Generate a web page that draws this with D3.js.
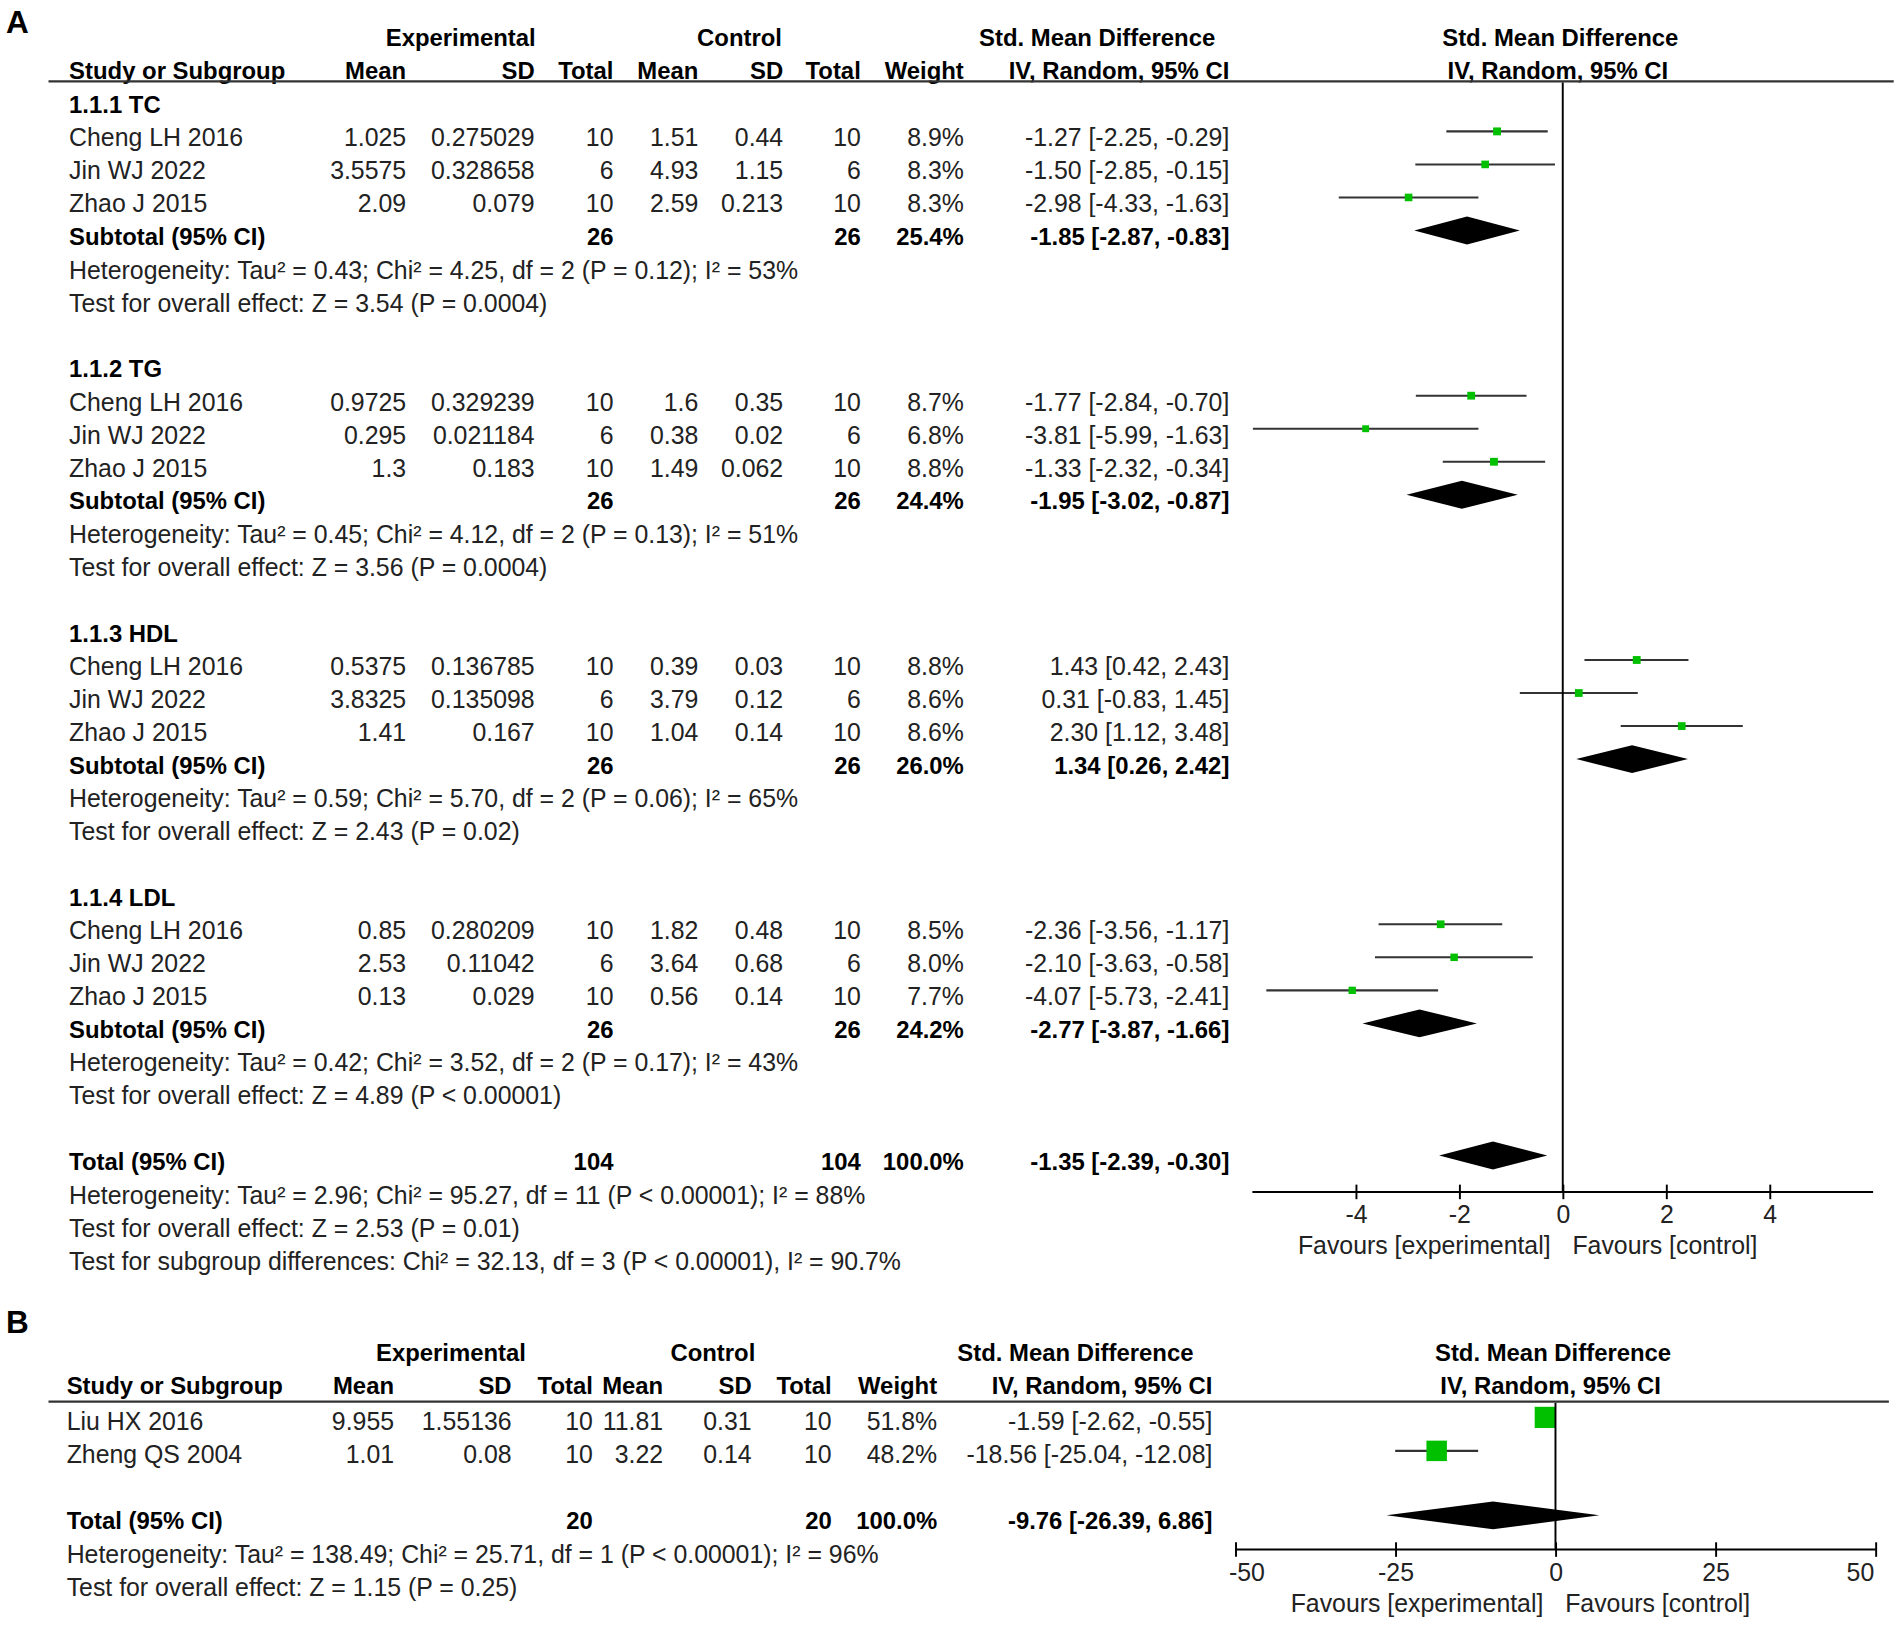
<!DOCTYPE html>
<html>
<head>
<meta charset="utf-8">
<script src="https://cdn.jsdelivr.net/npm/d3@7"></script>
<style>
  body { margin: 0; background: #fff; }
  text { font-family: "Liberation Sans", Arial, sans-serif; }
</style>
</head>
<body>
<div id="chart"></div>
<script>
// ---- panel A data ----
const groupsA = ["1.1.1 TC", "1.1.2 TG", "1.1.3 HDL", "1.1.4 LDL"];
const studiesA = ["Cheng LH 2016", "Jin WJ 2022", "Zhao J 2015"];
const expMeanA = [1.025, 3.5575, 2.09, 0.9725, 0.295, 1.3, 0.5375, 3.8325, 1.41, 0.85, 2.53, 0.13];
const expSdA = [0.275029, 0.328658, 0.079, 0.329239, 0.021184, 0.183, 0.136785, 0.135098, 0.167, 0.280209, 0.11042, 0.029];
const expNA = [10, 6, 10, 10, 6, 10, 10, 6, 10, 10, 6, 10];
const ctrlMeanA = [1.51, 4.93, 2.59, 1.6, 0.38, 1.49, 0.39, 3.79, 1.04, 1.82, 3.64, 0.56];
const ctrlSdA = [0.44, 1.15, 0.213, 0.35, 0.02, 0.062, 0.03, 0.12, 0.14, 0.48, 0.68, 0.14];
const ctrlNA = [10, 6, 10, 10, 6, 10, 10, 6, 10, 10, 6, 10];
const weightA = [8.9, 8.3, 8.3, 8.7, 6.8, 8.8, 8.8, 8.6, 8.6, 8.5, 8.0, 7.7];
const smdA = [-1.27, -1.50, -2.98, -1.77, -3.81, -1.33, 1.43, 0.31, 2.30, -2.36, -2.10, -4.07];
const loA = [-2.25, -2.85, -4.33, -2.84, -5.99, -2.32, 0.42, -0.83, 1.12, -3.56, -3.63, -5.73];
const hiA = [-0.29, -0.15, -1.63, -0.70, -1.63, -0.34, 2.43, 1.45, 3.48, -1.17, -0.58, -2.41];

const subNA = [26, 26, 26, 26];
const subWeightA = [25.4, 24.4, 26.0, 24.2];
const subSmdA = [-1.85, -1.95, 1.34, -2.77];
const subLoA = [-2.87, -3.02, 0.26, -3.87];
const subHiA = [-0.83, -0.87, 2.42, -1.66];
const subHetA = [
  "Heterogeneity: Tau² = 0.43; Chi² = 4.25, df = 2 (P = 0.12); I² = 53%",
  "Heterogeneity: Tau² = 0.45; Chi² = 4.12, df = 2 (P = 0.13); I² = 51%",
  "Heterogeneity: Tau² = 0.59; Chi² = 5.70, df = 2 (P = 0.06); I² = 65%",
  "Heterogeneity: Tau² = 0.42; Chi² = 3.52, df = 2 (P = 0.17); I² = 43%"
];
const subTestA = [
  "Test for overall effect: Z = 3.54 (P = 0.0004)",
  "Test for overall effect: Z = 3.56 (P = 0.0004)",
  "Test for overall effect: Z = 2.43 (P = 0.02)",
  "Test for overall effect: Z = 4.89 (P < 0.00001)"
];
const totalA = { n1: 104, n2: 104, weight: 100.0, smd: -1.35, lo: -2.39, hi: -0.30 };
const totalNotesA = [
  "Heterogeneity: Tau² = 2.96; Chi² = 95.27, df = 11 (P < 0.00001); I² = 88%",
  "Test for overall effect: Z = 2.53 (P = 0.01)",
  "Test for subgroup differences: Chi² = 32.13, df = 3 (P < 0.00001), I² = 90.7%"
];
const ticksA = [-4, -2, 0, 2, 4];

// ---- panel B data ----
const studiesB = ["Liu HX 2016", "Zheng QS 2004"];
const expMeanB = [9.955, 1.01];
const expSdB = [1.55136, 0.08];
const expNB = [10, 10];
const ctrlMeanB = [11.81, 3.22];
const ctrlSdB = [0.31, 0.14];
const ctrlNB = [10, 10];
const weightB = [51.8, 48.2];
const smdB = [-1.59, -18.56];
const loB = [-2.62, -25.04];
const hiB = [-0.55, -12.08];
const totalB = { n1: 20, n2: 20, weight: 100.0, smd: -9.76, lo: -26.39, hi: 6.86 };
const totalNotesB = [
  "Heterogeneity: Tau² = 138.49; Chi² = 25.71, df = 1 (P < 0.00001); I² = 96%",
  "Test for overall effect: Z = 1.15 (P = 0.25)"
];
const ticksB = [-50, -25, 0, 25, 50];

// ---- layout ----
const W = 1568, H = 1350;
const FS = 20.5, FSB = 19.7;
const GREEN = "#00c000";

const svg = d3.select("#chart").append("svg")
  .attr("width", 1901)
  .attr("height", 1637)
  .attr("viewBox", `0 0 ${W} ${H}`);

const fmt2 = v => v.toFixed(2);
const ci = (m, lo, hi) => `${fmt2(m)} [${fmt2(lo)}, ${fmt2(hi)}]`;
const pct = w => w.toFixed(1) + "%";

function txt(g, x, y, s, anchor, bold) {
  return g.append("text")
    .attr("x", x)
    .attr("y", y)
    .attr("dy", "0.36em")
    .attr("text-anchor", anchor || "start")
    .style("font-size", (bold ? FSB : FS) + "px")
    .style("font-weight", bold ? "bold" : "normal")
    .style("fill", bold ? "#000" : "#222")
    .text(s);
}

function header(g, cols, y1, y2, lineY, lineX2, zeroX) {
  txt(g, cols.expCenter, y1, "Experimental", "middle", true);
  txt(g, cols.ctrlCenter, y1, "Control", "middle", true);
  txt(g, cols.ciCenter, y1, "Std. Mean Difference", "middle", true);
  txt(g, zeroX - 2, y1, "Std. Mean Difference", "middle", true);
  txt(g, cols.study, y2, "Study or Subgroup", "start", true);
  txt(g, cols.m1, y2, "Mean", "end", true);
  txt(g, cols.sd1, y2, "SD", "end", true);
  txt(g, cols.n1, y2, "Total", "end", true);
  txt(g, cols.m2, y2, "Mean", "end", true);
  txt(g, cols.sd2, y2, "SD", "end", true);
  txt(g, cols.n2, y2, "Total", "end", true);
  txt(g, cols.w, y2, "Weight", "end", true);
  txt(g, cols.ci, y2, "IV, Random, 95% CI", "end", true);
  txt(g, zeroX - 4, y2, "IV, Random, 95% CI", "middle", true);
  g.append("line")
    .attr("x1", 40).attr("x2", lineX2)
    .attr("y1", lineY).attr("y2", lineY)
    .style("stroke", "#333").style("stroke-width", 2);
}

function studyRow(g, cols, y, vals) {
  txt(g, cols.study, y, vals[0]);
  txt(g, cols.m1, y, String(vals[1]), "end");
  txt(g, cols.sd1, y, String(vals[2]), "end");
  txt(g, cols.n1, y, String(vals[3]), "end");
  txt(g, cols.m2, y, String(vals[4]), "end");
  txt(g, cols.sd2, y, String(vals[5]), "end");
  txt(g, cols.n2, y, String(vals[6]), "end");
  txt(g, cols.w, y, pct(vals[7]), "end");
  txt(g, cols.ci, y, ci(vals[8], vals[9], vals[10]), "end");
}

function totalRow(g, cols, y, label, n1, n2, w, m, lo, hi) {
  txt(g, cols.study, y, label, "start", true);
  txt(g, cols.n1, y, String(n1), "end", true);
  txt(g, cols.n2, y, String(n2), "end", true);
  txt(g, cols.w, y, pct(w), "end", true);
  txt(g, cols.ci, y, ci(m, lo, hi), "end", true);
}

function studyMark(g, x, size, y, m, lo, hi, w) {
  g.append("line")
    .attr("x1", x(lo)).attr("x2", x(hi))
    .attr("y1", y).attr("y2", y)
    .style("stroke", "#333").style("stroke-width", 1.7);
  const s = size(w);
  g.append("rect")
    .attr("x", x(m) - s / 2).attr("y", y - s / 2)
    .attr("width", s).attr("height", s)
    .style("fill", GREEN);
}

function diamond(g, x, y, m, lo, hi) {
  const h = 11.5;
  g.append("path")
    .attr("d", `M${x(lo)},${y}L${x(m)},${y - h}L${x(hi)},${y}L${x(m)},${y + h}Z`)
    .style("fill", "#000");
}

function axisBlock(g, x, axisY, topY, ticks, endTicks) {
  g.append("line")
    .attr("x1", x(0)).attr("x2", x(0))
    .attr("y1", topY).attr("y2", axisY)
    .style("stroke", "#000").style("stroke-width", 1.6);

  const ax = g.append("g")
    .attr("transform", `translate(0,${axisY})`)
    .call(d3.axisBottom(x).tickValues(ticks).tickFormat(d => String(d))
      .tickSizeOuter(endTicks ? 6 : 0).tickSizeInner(6));
  ax.select(".domain")
    .attr("d", `M${x.range()[0]},0H${x.range()[1]}`)
    .style("stroke", "#000").style("stroke-width", 1.6);
  ax.selectAll(".tick line").attr("y1", -6).attr("y2", 6)
    .style("stroke", "#000").style("stroke-width", 1.6);
  ax.selectAll(".tick text")
    .attr("y", 11)
    .style("font-family", "\"Liberation Sans\", Arial, sans-serif")
    .style("font-size", FS + "px")
    .style("fill", "#222");
  if (endTicks) {
    ax.selectAll(".tick text")
      .attr("dx", d => d === ticks[0] ? 9 : d === ticks[ticks.length - 1] ? -13 : 0);
  }
  txt(g, x(0) - 10, axisY + 44, "Favours [experimental]", "end");
  txt(g, x(0) + 8, axisY + 44, "Favours [control]", "start");
}

// ---- Panel A ----
const gA = svg.append("g");
gA.append("text").attr("x", 5).attr("y", 27).text("A")
  .style("font-size", "26px").style("font-weight", "bold");

const colsA = {
  study: 57, m1: 335, sd1: 441, n1: 506, m2: 576, sd2: 646, n2: 710, w: 795, ci: 1014,
  expCenter: 380, ctrlCenter: 610, ciCenter: 905
};
const xA = d3.scaleLinear().domain([-6, 6]).range([1033, 1545]);
const rowA = d3.scaleLinear().domain([0, 35]).range([86, 86 + 35 * 27.25]);
const sizeA = d3.scaleSqrt().domain([0, 8.9]).range([0, 6.5]);
const markOff = -5;

header(gA, colsA, 31, 58, 67, 1562, xA(0));

groupsA.forEach((gname, gi) => {
  const base = gi * 8;
  txt(gA, colsA.study, rowA(base), gname, "start", true);
  studiesA.forEach((sname, si) => {
    const k = gi * 3 + si;
    const y = rowA(base + 1 + si);
    studyRow(gA, colsA, y, [sname, expMeanA[k], expSdA[k], expNA[k], ctrlMeanA[k], ctrlSdA[k], ctrlNA[k],
      weightA[k], smdA[k], loA[k], hiA[k]]);
    studyMark(gA, xA, sizeA, y + markOff, smdA[k], loA[k], hiA[k], weightA[k]);
  });
  const ys = rowA(base + 4);
  totalRow(gA, colsA, ys, "Subtotal (95% CI)", subNA[gi], subNA[gi], subWeightA[gi], subSmdA[gi], subLoA[gi], subHiA[gi]);
  diamond(gA, xA, ys + markOff, subSmdA[gi], subLoA[gi], subHiA[gi]);
  txt(gA, colsA.study, rowA(base + 5), subHetA[gi]);
  txt(gA, colsA.study, rowA(base + 6), subTestA[gi]);
});

const yTotA = rowA(32);
totalRow(gA, colsA, yTotA, "Total (95% CI)", totalA.n1, totalA.n2, totalA.weight, totalA.smd, totalA.lo, totalA.hi);
diamond(gA, xA, yTotA + markOff, totalA.smd, totalA.lo, totalA.hi);
totalNotesA.forEach((s, i) => txt(gA, colsA.study, rowA(33 + i), s));

axisBlock(gA, xA, 983, 68, ticksA, false);

// ---- Panel B ----
const gB = svg.append("g");
gB.append("text").attr("x", 5).attr("y", 1099).text("B")
  .style("font-size", "26px").style("font-weight", "bold");

const colsB = {
  study: 55, m1: 325, sd1: 422, n1: 489, m2: 547, sd2: 620, n2: 686, w: 773, ci: 1000,
  expCenter: 372, ctrlCenter: 588, ciCenter: 887
};
const xB = d3.scaleLinear().domain([-50, 50]).range([1019, 1547]);
const rowB = d3.scaleLinear().domain([0, 5]).range([1172, 1172 + 5 * 27.6]);
const sizeB = d3.scaleSqrt().domain([0, 51.8]).range([0, 17.5]);

header(gB, colsB, 1115, 1143, 1156, 1558, xB(0));

studiesB.forEach((sname, k) => {
  const y = rowB(k);
  studyRow(gB, colsB, y, [sname, expMeanB[k], expSdB[k], expNB[k], ctrlMeanB[k], ctrlSdB[k], ctrlNB[k],
    weightB[k], smdB[k], loB[k], hiB[k]]);
  studyMark(gB, xB, sizeB, y - 3, smdB[k], loB[k], hiB[k], weightB[k]);
});
totalRow(gB, colsB, rowB(3) - 1, "Total (95% CI)", totalB.n1, totalB.n2, totalB.weight, totalB.smd, totalB.lo, totalB.hi);
diamond(gB, xB, rowB(3) - 5, totalB.smd, totalB.lo, totalB.hi);
totalNotesB.forEach((s, i) => txt(gB, colsB.study, rowB(4 + i) - 1, s));

axisBlock(gB, xB, 1278, 1157, ticksB, true);
</script>
</body>
</html>
